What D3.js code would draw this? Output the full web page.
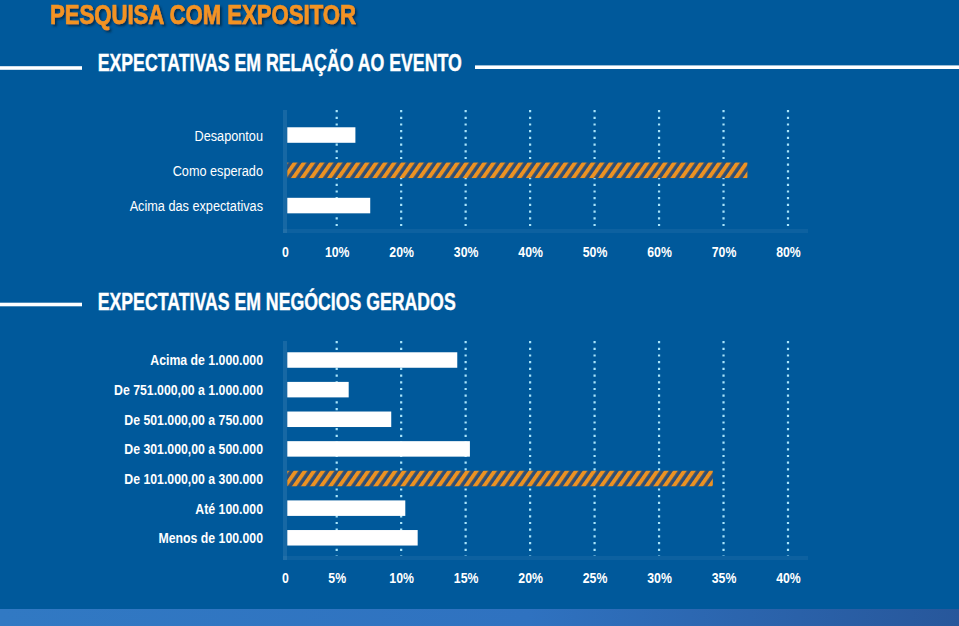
<!DOCTYPE html>
<html>
<head>
<meta charset="utf-8">
<script src="https://cdn.jsdelivr.net/npm/d3@7"></script>
<style>
  html, body { margin: 0; padding: 0; background: #00599b; }
  svg { display: block; }
  text { font-family: "Liberation Sans", Arial, sans-serif; }
</style>
</head>
<body>
<svg id="chart" width="959" height="626"></svg>
<script>
// ---------------- DATA ----------------
const mainTitle = "PESQUISA COM EXPOSITOR";
const topTitle = "EXPECTATIVAS EM RELAÇÃO AO EVENTO";
const bottomTitle = "EXPECTATIVAS EM NEGÓCIOS GERADOS";

const topCategories = ["Desapontou", "Como esperado", "Acima das expectativas"];
const topValues = [12.9, 73.7, 15.2];
const topTicks = [0, 10, 20, 30, 40, 50, 60, 70, 80];

const bottomCategories = [
  "Acima de 1.000.000",
  "De 751.000,00 a 1.000.000",
  "De 501.000,00 a 750.000",
  "De 301.000,00 a 500.000",
  "De 101.000,00 a 300.000",
  "Até 100.000",
  "Menos de 100.000"
];
const bottomValues = [14.35, 5.93, 9.23, 15.33, 34.17, 10.32, 11.28];
const bottomTicks = [0, 5, 10, 15, 20, 25, 30, 35, 40];

// ---------------- DRAW ----------------
const svg = d3.select("#chart");
const W = 959, H = 626;
const BG = "#00599b";
const COND = 0.82;

const defs = svg.append("defs");
const hatch = defs.append("pattern")
  .attr("id", "hatch").attr("patternUnits", "userSpaceOnUse")
  .attr("width", 7.4).attr("height", 10)
  .attr("patternTransform", "rotate(35)");
hatch.append("rect").attr("width", 7.4).attr("height", 10).attr("fill", "#2c4e77");
hatch.append("rect").attr("width", 3.9).attr("height", 10).attr("fill", "#ec9222");

const grad = defs.append("linearGradient").attr("id", "stripe")
  .attr("x1", "0%").attr("x2", "100%");
grad.append("stop").attr("offset", "0%").attr("stop-color", "#3179c3");
grad.append("stop").attr("offset", "55%").attr("stop-color", "#2f72c0");
grad.append("stop").attr("offset", "100%").attr("stop-color", "#27579b");

const shadow = defs.append("filter").attr("id", "shadow")
  .attr("x", "-5%").attr("y", "-20%").attr("width", "115%").attr("height", "160%");
shadow.append("feDropShadow").attr("dx", 2).attr("dy", 2).attr("stdDeviation", 1.2)
  .attr("flood-color", "#062a4a").attr("flood-opacity", 0.85);

svg.append("rect").attr("width", W).attr("height", H).attr("fill", BG);
svg.append("rect").attr("x", 0).attr("y", 609).attr("width", W).attr("height", H - 609)
  .attr("fill", "url(#stripe)");

// Main title
svg.append("text")
  .attr("x", 50).attr("y", 23.5)
  .attr("font-size", 28).attr("font-weight", "bold")
  .attr("fill", "#f39322").attr("stroke", "#f39322").attr("stroke-width", 0.7)
  .attr("textLength", 306).attr("lengthAdjust", "spacingAndGlyphs")
  .attr("filter", "url(#shadow)")
  .text(mainTitle);

function header(text, baseline, length, lineY, rightLine) {
  svg.append("rect").attr("x", 0).attr("y", lineY - 1.8).attr("width", 82).attr("height", 3.6)
    .attr("fill", "#ffffff");
  if (rightLine) {
    svg.append("rect").attr("x", 475).attr("y", lineY - 2.6).attr("width", W - 475).attr("height", 3.6)
      .attr("fill", "#ffffff");
  }
  svg.append("text")
    .attr("x", 97.7).attr("y", baseline)
    .attr("font-size", 23.5).attr("font-weight", "bold").attr("fill", "#ffffff")
    .attr("stroke", "#ffffff").attr("stroke-width", 0.4)
    .attr("textLength", length).attr("lengthAdjust", "spacingAndGlyphs")
    .text(text);
}
header(topTitle, 70.5, 364, 68, true);
header(bottomTitle, 310, 358, 304.5, false);

function chart(opts) {
  const { categories, values, ticks, yRange, pad, gridTop, gridBottom, tickY, labelWeight, labelSize } = opts;
  const x = d3.scaleLinear().domain([0, ticks[1], ticks[ticks.length - 1]]).range([285, 336.7, 788]);
  const y = d3.scaleBand().domain(categories).range(yRange)
    .paddingInner(pad).paddingOuter(pad / 2);
  const maxV = d3.max(values);
  const g = svg.append("g");

  // subtle x-axis band
  g.append("rect").attr("x", x(0) - 2).attr("y", gridBottom).attr("width", 810 - x(0))
    .attr("height", 4).attr("fill", "#ffffff").attr("opacity", 0.05);

  // dotted gridlines
  g.selectAll("line.grid").data(ticks.filter(t => t > 0)).join("line")
    .attr("class", "grid")
    .attr("x1", d => x(d)).attr("x2", d => x(d))
    .attr("y1", gridTop).attr("y2", gridBottom)
    .attr("stroke", "#a8e4fa").attr("stroke-width", 2.2)
    .attr("stroke-dasharray", "2.2,4.5");

  // y axis band
  g.append("rect").attr("x", x(0) - 2).attr("y", gridTop).attr("width", 4)
    .attr("height", gridBottom - gridTop + 4).attr("fill", "#ffffff").attr("opacity", 0.09);

  // bars
  g.selectAll("rect.bar").data(values).join("rect")
    .attr("class", "bar")
    .attr("x", x(0) + 2.3)
    .attr("y", (d, i) => y(categories[i]))
    .attr("width", d => x(d) - x(0) - 2.3)
    .attr("height", y.bandwidth())
    .attr("fill", d => d === maxV ? "url(#hatch)" : "#ffffff");

  // category labels
  g.selectAll("text.cat").data(categories).join("text")
    .attr("class", "cat")
    .attr("transform", d => `translate(263,${y(d) + y.bandwidth() / 2}) scale(${COND},1)`)
    .attr("text-anchor", "end").attr("dy", "0.36em")
    .attr("font-size", labelSize).attr("font-weight", labelWeight)
    .attr("fill", "#ffffff")
    .text(d => d);

  // tick labels via axis
  const axis = d3.axisBottom(x).tickValues(ticks).tickSize(0)
    .tickFormat(d => d === 0 ? "0" : d + "%");
  const ag = g.append("g").attr("transform", `translate(0,${tickY})`).call(axis);
  ag.select(".domain").remove();
  ag.selectAll("text")
    .attr("y", 0).attr("dy", "0.36em")
    .attr("transform", `scale(${COND},1)`)
    .attr("font-family", "'Liberation Sans', Arial, sans-serif")
    .attr("font-size", 15).attr("font-weight", "bold")
    .attr("fill", "#ffffff");
}

chart({
  categories: topCategories, values: topValues, ticks: topTicks,
  yRange: [117.4, 223.2], pad: 0.56, gridTop: 110, gridBottom: 229,
  tickY: 252, labelWeight: "normal", labelSize: 15.5
});
chart({
  categories: bottomCategories, values: bottomValues, ticks: bottomTicks,
  yRange: [345.2, 552.6], pad: 0.477, gridTop: 341, gridBottom: 556,
  tickY: 578, labelWeight: "bold", labelSize: 15
});
</script>
</body>
</html>
